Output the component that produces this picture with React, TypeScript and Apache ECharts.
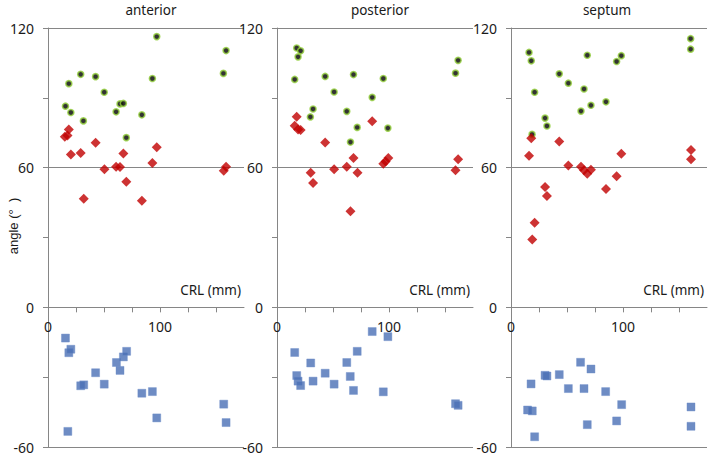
import React, { useEffect, useRef } from "react";
import * as echarts from "echarts";

// Panel titles
const panelTitles = ["anterior", "posterior", "septum"];

// X axis ticks (CRL, mm) and Y axis ticks (angle, degrees)
const xTickLabels = [0, 100];
const yTickLabels = [-60, 0, 60, 120];
const yMin = -60;
const yMax = 120;

// anterior: [CRL, angle]
const anteriorGreen = [
  [15.6, 86.4], [18.6, 96.1], [20.4, 83.7], [29.2, 100.1], [31.6, 80.1], [42.5, 99.1],
  [50.2, 92.4], [60.8, 84.0], [64.3, 87.4], [67.3, 87.6], [69.9, 72.9], [83.8, 82.7],
  [93.2, 98.3], [97.1, 116.3], [156.6, 100.5], [159.0, 110.3],
];
const anteriorRed = [
  [15.0, 73.3], [17.4, 73.8], [18.6, 76.4], [20.4, 65.7], [29.2, 66.3], [31.9, 46.7],
  [42.5, 70.7], [50.4, 59.3], [60.8, 60.4], [64.3, 60.3], [67.3, 66.1], [69.9, 53.9],
  [83.8, 45.8], [93.2, 62.0], [97.1, 68.8], [156.9, 58.7], [159.0, 60.4],
];
const anteriorBlue = [
  [15.6, -13.2], [18.6, -19.5], [20.4, -18.0], [29.2, -33.7], [31.9, -33.3], [42.5, -28.1],
  [50.2, -33.0], [61.1, -23.7], [64.3, -27.1], [67.3, -21.3], [70.2, -18.9], [83.8, -36.9],
  [93.2, -36.2], [97.1, -47.5], [156.9, -41.6], [159.0, -49.5], [17.7, -53.3],
];

// posterior
const posteriorGreen = [
  [17.6, 111.4], [21.1, 110.2], [18.8, 107.6], [15.8, 97.9], [29.8, 81.8], [32.2, 85.2],
  [43.0, 99.2], [51.0, 92.5], [62.3, 84.2], [65.6, 71.0], [68.3, 100.0], [71.6, 77.3],
  [85.0, 90.2], [94.9, 98.3], [99.0, 77.0], [159.4, 100.6], [161.7, 106.1],
];
const posteriorRed = [
  [17.6, 81.9], [15.8, 78.0], [18.8, 76.4], [21.1, 76.2], [30.1, 57.8], [32.2, 53.4],
  [43.0, 70.8], [51.0, 59.3], [62.3, 60.4], [65.6, 41.3], [68.3, 64.1], [71.9, 57.8],
  [85.0, 79.9], [94.9, 61.7], [97.0, 62.7], [99.4, 64.1], [159.4, 58.9], [161.7, 63.6],
];
const posteriorBlue = [
  [15.8, -19.4], [17.6, -29.3], [18.8, -31.7], [21.1, -33.6], [30.1, -23.9], [32.2, -31.7],
  [43.0, -28.3], [51.0, -33.0], [62.3, -23.7], [65.4, -29.7], [68.3, -35.7], [71.6, -18.9],
  [85.0, -10.4], [94.9, -36.3], [99.0, -12.6], [159.4, -41.4], [161.7, -42.1],
];

// septum
const septumGreen = [
  [16.1, 109.5], [18.1, 105.9], [21.1, 92.4], [18.8, 74.3], [30.4, 81.3], [32.1, 77.9],
  [43.1, 100.3], [51.2, 96.3], [65.2, 93.8], [62.5, 84.3], [68.1, 108.3], [71.4, 86.8],
  [84.8, 88.3], [94.3, 105.6], [98.5, 108.1], [160.4, 115.4], [160.4, 110.9],
];
const septumRed = [
  [18.1, 72.6], [16.1, 65.1], [21.1, 36.3], [19.0, 29.1], [30.4, 51.7], [32.1, 47.8],
  [43.1, 71.2], [51.2, 60.9], [62.5, 60.4], [65.2, 58.9], [68.1, 57.4], [71.4, 59.1],
  [84.8, 50.8], [94.3, 56.3], [98.5, 66.0], [160.7, 67.6], [160.7, 63.6],
];
const septumBlue = [
  [14.8, -44.1], [19.0, -44.5], [17.9, -32.9], [21.1, -55.6], [30.4, -29.2], [32.1, -29.5],
  [43.1, -28.9], [51.2, -34.9], [62.1, -23.6], [65.2, -34.9], [68.1, -50.4], [71.4, -26.5],
  [84.5, -36.2], [94.3, -48.8], [98.8, -41.8], [160.7, -42.8], [160.7, -51.1],
];

const panelData = [
  [anteriorGreen, anteriorRed, anteriorBlue],
  [posteriorGreen, posteriorRed, posteriorBlue],
  [septumGreen, septumRed, septumBlue],
];

const gridLefts = [48, 277, 511];
const gridWidth = 196;
const gridTop = 28;
const gridHeight = 419;
const AXIS = "#868686";
const TEXT = "#1a1a1a";
const FONT = "'Noto Sans', sans-serif";

export default function App() {
  const ref = useRef<HTMLDivElement>(null);
  useEffect(() => {
    if (!ref.current) return;
    const chart = echarts.init(ref.current, undefined, { renderer: "svg" });
    const grids = gridLefts.map((left) => ({
      left,
      top: gridTop,
      width: gridWidth,
      height: gridHeight,
      containLabel: false,
    }));
    // x axis crosses the y axis at angle 0
    const zeroOffset = -((0 - yMin) / (yMax - yMin)) * gridHeight;
    const xAxes = gridLefts.map((_, i) => ({
      type: "value",
      gridIndex: i,
      position: "bottom",
      offset: zeroOffset,
      min: 0,
      max: 175,
      interval: 25,
      name: "CRL (mm)",
      nameLocation: "end",
      nameGap: -3,
      nameTextStyle: {
        align: "right",
        verticalAlign: "bottom",
        padding: [0, 0, 10, 0],
        fontSize: 13.5,
        color: TEXT,
        fontFamily: FONT,
      },
      axisLine: { show: true, onZero: false, lineStyle: { color: AXIS, width: 1 } },
      axisTick: { show: true, inside: false, length: 5, lineStyle: { color: AXIS } },
      axisLabel: {
        show: true,
        margin: 12,
        fontSize: 14,
        color: TEXT,
        fontFamily: FONT,
        showMaxLabel: false,
        formatter: (v: number) => (xTickLabels.includes(v) ? String(v) : ""),
      },
      splitLine: { show: false },
    }));
    const yAxes = gridLefts.map((_, i) => ({
      type: "value",
      gridIndex: i,
      min: yMin,
      max: yMax,
      interval: 60,
      axisLine: { show: true, onZero: false, lineStyle: { color: AXIS, width: 1 } },
      axisTick: { show: true, inside: false, length: 5, lineStyle: { color: AXIS } },
      minorTick: { show: true, splitNumber: 2, length: 5, lineStyle: { color: AXIS } },
      axisLabel: {
        show: true,
        margin: 14,
        fontSize: 14,
        color: TEXT,
        fontFamily: FONT,
        formatter: (v: number) => (yTickLabels.includes(v) ? String(v) : ""),
      },
      splitLine: { show: true, lineStyle: { color: AXIS, width: 1 } },
    }));
    const series: any[] = [];
    panelData.forEach((sets, i) => {
      series.push({
        type: "scatter",
        name: "green",
        xAxisIndex: i,
        yAxisIndex: i,
        data: sets[0],
        symbol: "circle",
        symbolSize: 6,
        itemStyle: { color: "#000000", borderColor: "#93cf3c", borderWidth: 1.6 },
      });
      series.push({
        type: "scatter",
        name: "red",
        xAxisIndex: i,
        yAxisIndex: i,
        data: sets[1],
        symbol: "diamond",
        symbolSize: 10,
        itemStyle: { color: "#c00000" },
      });
      series.push({
        type: "scatter",
        name: "blue",
        xAxisIndex: i,
        yAxisIndex: i,
        data: sets[2],
        symbol: "rect",
        symbolSize: 8,
        itemStyle: { color: "#4a6fb5", borderColor: "#6b8cc8", borderWidth: 0.5 },
      });
    });
    const titleCenters = [151, 380, 607];
    const graphic: any[] = panelTitles.map((t, i) => ({
      type: "text",
      x: titleCenters[i],
      y: 10,
      style: {
        text: t,
        fontSize: 13.5,
        fontFamily: FONT,
        fill: TEXT,
        align: "center",
        verticalAlign: "middle",
      },
    }));
    graphic.push({
      type: "text",
      x: 13,
      y: 226,
      rotation: Math.PI / 2,
      style: {
        text: "angle (°  )",
        fontSize: 13,
        fontFamily: "'Liberation Sans', Arial, sans-serif",
        fill: TEXT,
        align: "center",
        verticalAlign: "middle",
      },
    });
    chart.setOption({
      animation: false,
      backgroundColor: "#ffffff",
      grid: grids,
      xAxis: xAxes,
      yAxis: yAxes,
      series,
      graphic,
    });
    return () => chart.dispose();
  }, []);
  return (
    <div
      ref={ref}
      style={{ position: "fixed", left: 0, top: 0, width: 709, height: 457 }}
    />
  );
}
